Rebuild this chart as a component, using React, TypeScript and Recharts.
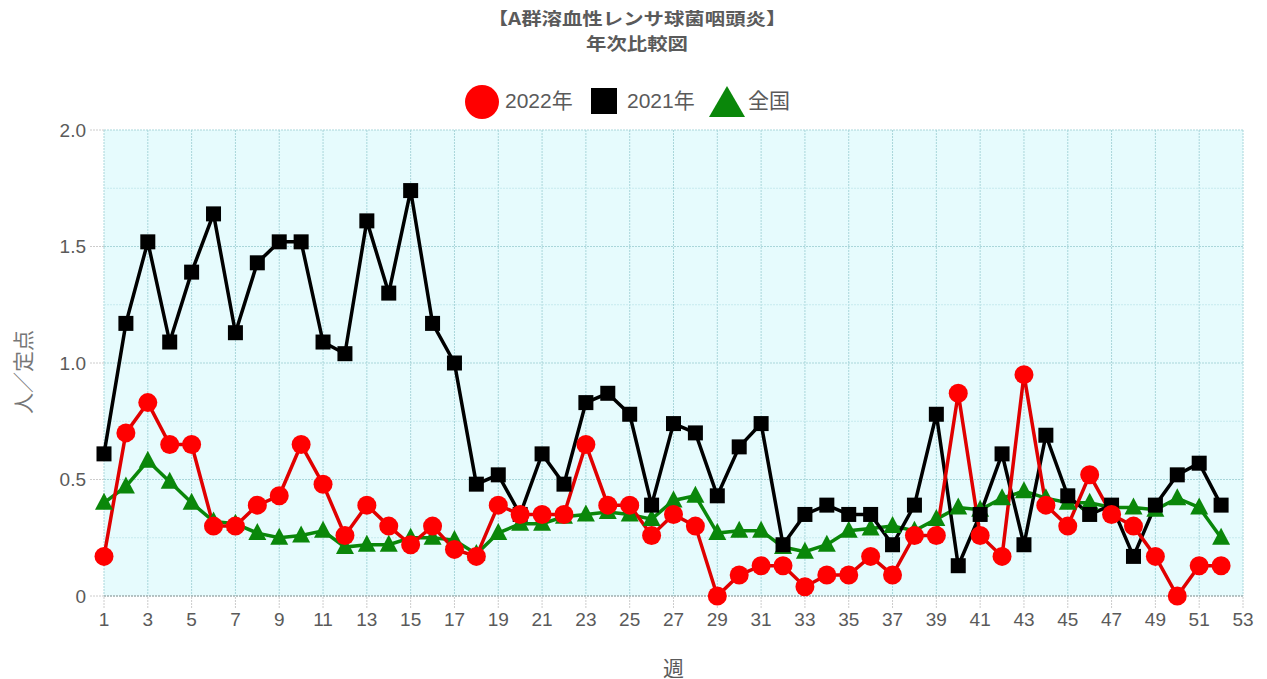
import React from 'react';
import { LineChart, Line, XAxis, YAxis, CartesianGrid, ReferenceLine, Label } from 'recharts';

const weeks = Array.from({ length: 52 }, (_, i) => i + 1);

const y2022 = [
  0.17, 0.70, 0.83, 0.65, 0.65, 0.30, 0.30, 0.39, 0.43, 0.65,
  0.48, 0.26, 0.39, 0.30, 0.22, 0.30, 0.20, 0.17, 0.39, 0.35,
  0.35, 0.35, 0.65, 0.39, 0.39, 0.26, 0.35, 0.30, 0.00, 0.09,
  0.13, 0.13, 0.04, 0.09, 0.09, 0.17, 0.09, 0.26, 0.26, 0.87,
  0.26, 0.17, 0.95, 0.39, 0.30, 0.52, 0.35, 0.30, 0.17, 0.00,
  0.13, 0.13,
];

const y2021 = [
  0.61, 1.17, 1.52, 1.09, 1.39, 1.64, 1.13, 1.43, 1.52, 1.52,
  1.09, 1.04, 1.61, 1.30, 1.74, 1.17, 1.00, 0.48, 0.52, 0.35,
  0.61, 0.48, 0.83, 0.87, 0.78, 0.39, 0.74, 0.70, 0.43, 0.64,
  0.74, 0.22, 0.35, 0.39, 0.35, 0.35, 0.22, 0.39, 0.78, 0.13,
  0.35, 0.61, 0.22, 0.69, 0.43, 0.35, 0.39, 0.17, 0.39, 0.52,
  0.57, 0.39,
];

const national = [
  0.40, 0.47, 0.58, 0.49, 0.40, 0.32, 0.31, 0.27, 0.25, 0.26,
  0.28, 0.21, 0.22, 0.22, 0.25, 0.25, 0.24, 0.18, 0.27, 0.31,
  0.31, 0.34, 0.35, 0.36, 0.35, 0.33, 0.41, 0.43, 0.27, 0.28,
  0.28, 0.21, 0.19, 0.22, 0.28, 0.29, 0.30, 0.28, 0.33, 0.38,
  0.37, 0.42, 0.45, 0.42, 0.40, 0.40, 0.38, 0.38, 0.37, 0.42,
  0.38, 0.25,
];

const xTicks = Array.from({ length: 27 }, (_, i) => 1 + i * 2);
const yTicks = [0, 0.5, 1, 1.5, 2];
const yMinor = [0.25, 0.75, 1.25, 1.75];

const data = weeks.map((w, i) => ({
  week: w,
  y2022: y2022[i],
  y2021: y2021[i],
  national: national[i],
}));

const RED = '#ff0000';
const GREEN = '#0a870a';
const GRID = '#a9d6da';
const TEXT = '#5a5a5a';

const circleDot = (p: any) => (
  <circle key={`c-${p.index}`} cx={p.cx} cy={p.cy} r={9.5} fill={RED} />
);
const squareDot = (p: any) => (
  <rect key={`s-${p.index}`} x={p.cx - 7.5} y={p.cy - 7.5} width={15} height={15} fill="#000" />
);
const triangleDot = (p: any) => (
  <polygon
    key={`t-${p.index}`}
    points={`${p.cx},${p.cy - 10} ${p.cx - 9},${p.cy + 7} ${p.cx + 9},${p.cy + 7}`}
    fill={GREEN}
  />
);

export default function App() {
  const font = "'Liberation Sans', 'Noto Sans CJK JP', sans-serif";
  const legendText: React.CSSProperties = { position: 'absolute', top: 88, fontSize: 21, lineHeight: '26px', color: TEXT, whiteSpace: 'nowrap' };
  return (
    <div style={{ position: 'absolute', left: 0, top: 0, width: 1267, height: 679, background: '#fff', fontFamily: font }}>
      {/* title, drawn a little wide like the original */}
      <div style={{ position: 'absolute', left: 0, width: 1274, top: 5, textAlign: 'center', color: TEXT, fontWeight: 'bold', fontSize: 17, lineHeight: '25px', fontFamily: "'Noto Sans CJK JP', sans-serif", transform: 'scaleX(1.2)' }}>
        <div>【A群溶血性レンサ球菌咽頭炎】</div>
        <div>年次比較図</div>
      </div>

      {/* legend */}
      <svg style={{ position: 'absolute', left: 463, top: 84 }} width={38} height={36}>
        <circle cx={19} cy={18} r={17} fill={RED} />
      </svg>
      <span style={{ ...legendText, left: 505 }}>2022年</span>
      <svg style={{ position: 'absolute', left: 591, top: 88 }} width={26} height={26}>
        <rect x={0} y={0} width={26} height={26} fill="#000" />
      </svg>
      <span style={{ ...legendText, left: 627 }}>2021年</span>
      <svg style={{ position: 'absolute', left: 708, top: 85 }} width={38} height={33}>
        <polygon points="19,1 1,32 37,32" fill={GREEN} />
      </svg>
      <span style={{ ...legendText, left: 748 }}>全国</span>

      <div style={{ position: 'absolute', left: 0, top: 0 }}>
        <LineChart width={1267} height={679} data={data} margin={{ top: 130, right: 24, bottom: 0, left: 0 }}>
          <CartesianGrid fill="#e6fbfd" stroke={GRID} strokeDasharray="2 1" />
          {yMinor.map((v) => (
            <ReferenceLine key={v} y={v} stroke="#c6eaee" strokeDasharray="2 1" />
          ))}
          <XAxis
            dataKey="week"
            type="number"
            domain={[1, 53]}
            ticks={xTicks}
            interval={0}
            height={83}
            tickSize={12}
            tickMargin={5}
            tick={{ fill: TEXT, fontSize: 19 }}
            axisLine={{ stroke: '#999', strokeDasharray: '2 1' }}
            tickLine={{ stroke: '#ccc', strokeDasharray: '2 1' }}
          >
            <Label value="週" position="insideBottom" offset={3} style={{ fill: TEXT, fontSize: 21 }} />
          </XAxis>
          <YAxis
            domain={[0, 2]}
            ticks={yTicks}
            width={104}
            tickSize={14}
            tickMargin={4}
            tickFormatter={(v: number) => (v === 0 ? '0' : v.toFixed(1))}
            tick={{ fill: TEXT, fontSize: 19 }}
            axisLine={false}
            tickLine={{ stroke: '#ccc', strokeDasharray: '2 1' }}
          >
            <Label
              content={() => (
                <text x={25} y={372} transform="rotate(-90 25 372)" textAnchor="middle" dominantBaseline="middle" fill="#777" fontSize={21}>
                  人／定点
                </text>
              )}
            />
          </YAxis>
          <Line dataKey="national" stroke={GREEN} strokeWidth={3.5} dot={triangleDot} activeDot={false} isAnimationActive={false} />
          <Line dataKey="y2021" stroke="#000" strokeWidth={3.5} dot={squareDot} activeDot={false} isAnimationActive={false} />
          <Line dataKey="y2022" stroke="#e00000" strokeWidth={3.5} dot={circleDot} activeDot={false} isAnimationActive={false} />
        </LineChart>
      </div>
    </div>
  );
}
